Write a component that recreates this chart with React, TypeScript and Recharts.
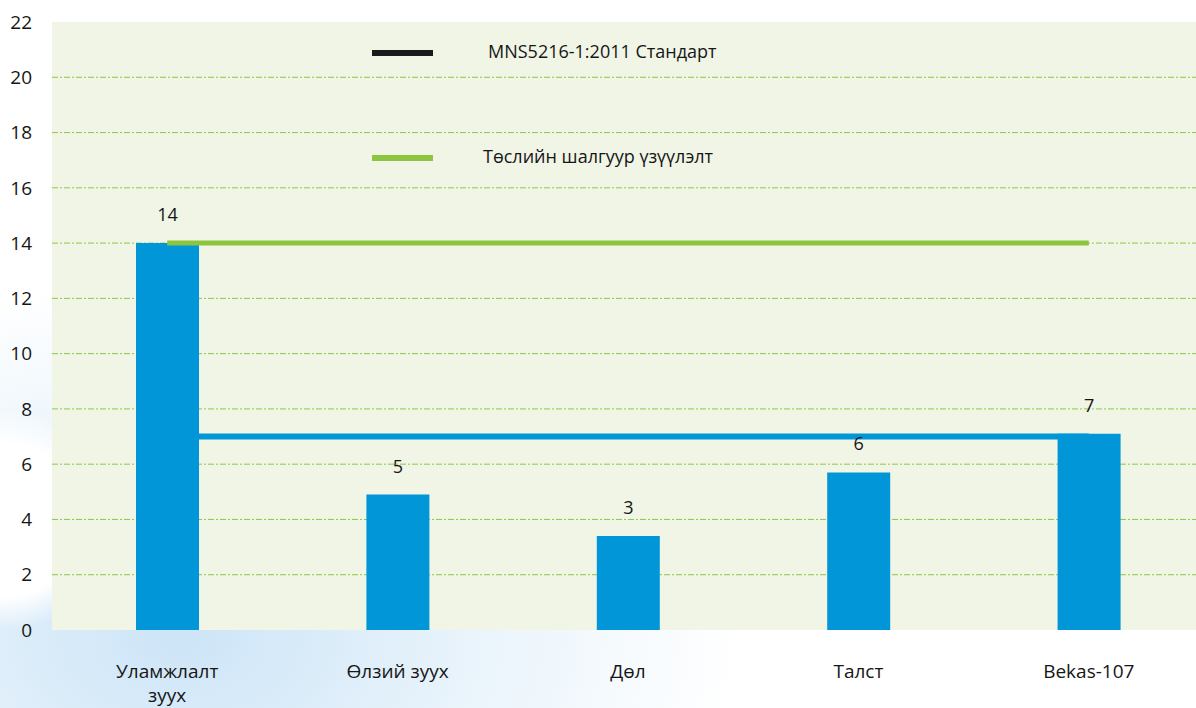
import React from 'react';
import { ComposedChart, Bar, Line, XAxis, YAxis, CartesianGrid, LabelList, Legend } from 'recharts';

// categories and values
const categories = ['Уламжлалт\nзуух', 'Өлзий зуух', 'Дөл', 'Талст', 'Bekas-107'];
const measured = [14, 4.9, 3.4, 5.7, 7.1];
const measuredLabels = ['14', '5', '3', '6', '7'];
const standard = [7, 7, 7, 7, 7];
const target = [14, 14, 14, 14, 14];
const yTicks = [0, 2, 4, 6, 8, 10, 12, 14, 16, 18, 20, 22];
const gridValues = [2, 4, 6, 8, 10, 12, 14, 16, 18, 20];

const legendItems = [
  { label: 'MNS5216-1:2011 Стандарт', color: '#1a1a1a' },
  { label: 'Төслийн шалгуур үзүүлэлт', color: '#8cc63f' },
];

const BLUE = '#0096d8';
const GREEN = '#8cc63f';
const FONT = '"Open Sans", "Noto Sans", sans-serif';
const TEXT = '#161616';

const data = categories.map((name, i) => ({
  name,
  measured: measured[i],
  label: measuredLabels[i],
  standard: standard[i],
  target: target[i],
}));

const CategoryTick = (props: any) => {
  const { x, y, payload } = props;
  const lines = String(payload.value).split('\n');
  return (
    <text x={x} y={y} textAnchor="middle" fontSize={19} fontWeight={500} fontFamily={FONT} fill={TEXT}>
      {lines.map((l, i) => (
        <tspan key={i} x={x} dy={i === 0 ? 46 : 24}>{l}</tspan>
      ))}
    </text>
  );
};

const LegendBox = () => (
  <div style={{ position: 'relative', width: 420, height: 140, fontFamily: FONT }}>
    {legendItems.map((item, i) => (
      <div key={item.label} style={{ position: 'absolute', left: 0, top: i * 105, height: 20, width: 420 }}>
        <div style={{ position: 'absolute', left: 0, top: 7, width: 61, height: 6, background: item.color }} />
        <div style={{ position: 'absolute', left: i === 0 ? 116 : 111, top: -4, fontSize: 18, fontWeight: 500, color: TEXT, whiteSpace: 'nowrap' }}>
          {item.label}
        </div>
      </div>
    ))}
  </div>
);

export default function App() {
  return (
    <div
      style={{
        position: 'absolute',
        left: 0,
        top: 0,
        width: 1196,
        height: 708,
        overflow: 'hidden',
        background:
          'radial-gradient(ellipse 120px 110px at 0px 520px, #ffffff 70%, rgba(255,255,255,0) 100%),' +
          'radial-gradient(ellipse 560px 360px at 180px 640px, rgba(196,224,246,0.85) 0%, rgba(214,234,248,0.5) 55%, rgba(255,255,255,0) 100%), #fff',
      }}
    >
      <ComposedChart width={1204} height={708} data={data} margin={{ top: 22, right: 0, bottom: 0, left: 0 }}>
        <CartesianGrid
          vertical={false}
          horizontalValues={gridValues}
          stroke="#8cc84a"
          strokeDasharray="6 2 2 2"
          fill="#f0f5e6"
          fillOpacity={1}
        />
        <XAxis dataKey="name" axisLine={false} tickLine={false} tickSize={0} height={78} interval={0} tick={<CategoryTick />} />
        <YAxis
          domain={[0, 22]}
          ticks={yTicks}
          width={52}
          axisLine={false}
          tickLine={false}
          tickSize={0}
          tickMargin={20}
          tick={{ fontSize: 19, fontWeight: 500, fill: TEXT, fontFamily: FONT }}
        />
        <Legend layout="vertical" align="center" verticalAlign="middle" content={<LegendBox />} wrapperStyle={{ position: 'absolute', left: 372, top: 43, width: 420 }} />
        <Line dataKey="standard" name="MNS5216-1:2011 Стандарт" stroke={BLUE} strokeWidth={6} dot={false} activeDot={false} isAnimationActive={false} />
        <Bar dataKey="measured" fill={BLUE} barSize={63} isAnimationActive={false} legendType="none">
          <LabelList dataKey="label" position="top" offset={22} fontSize={18} fontWeight={500} fill={TEXT} fontFamily={FONT} />
        </Bar>
        <Line dataKey="target" name="Төслийн шалгуур үзүүлэлт" stroke={GREEN} strokeWidth={5} dot={false} activeDot={false} isAnimationActive={false} />
      </ComposedChart>
    </div>
  );
}
